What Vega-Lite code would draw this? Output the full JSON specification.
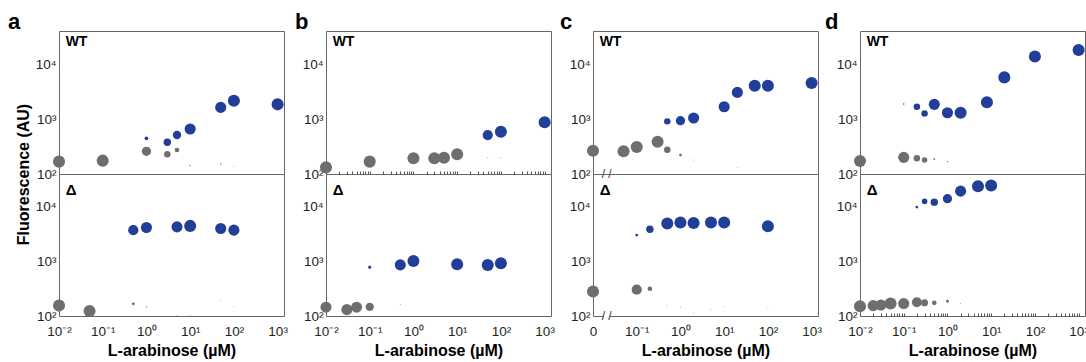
{
  "$schema": "https://vega.github.io/schema/vega-lite/v6.json",
  "padding": {"left": 7, "top": 10, "right": 0, "bottom": 0},
  "bounds": "flush",
  "columns": 4,
  "spacing": {"row": 0, "column": 42},
  "config": {
    "font": "Liberation Sans",
    "view": {"stroke": "#666666", "strokeWidth": 1},
    "axis": {"labelFont": "Liberation Sans", "titleFont": "Liberation Sans", "labelFontSize": 13.5, "labelColor": "#231f20", "titleFontSize": 16, "titleFontWeight": "bold", "titleColor": "#000000", "grid": false, "domain": false, "ticks": false, "labelFlush": false, "labelOverlap": false},
    "title": {"font": "Liberation Sans", "fontSize": 22, "fontWeight": "bold", "color": "#000000", "anchor": "start", "frame": "group", "baseline": "alphabetic", "offset": -3}
  },
  "datasets": {
    "pts": [
      {"panel": "a", "strain": "WT", "ara": 0.01, "fl": 168, "state": "off", "frac": 1.0},
      {"panel": "a", "strain": "WT", "ara": 0.1, "fl": 175, "state": "off", "frac": 1.0},
      {"panel": "a", "strain": "WT", "ara": 1, "fl": 259, "state": "off", "frac": 0.59},
      {"panel": "a", "strain": "WT", "ara": 1, "fl": 446, "state": "on", "frac": 0.095},
      {"panel": "a", "strain": "WT", "ara": 3, "fl": 228, "state": "off", "frac": 0.29},
      {"panel": "a", "strain": "WT", "ara": 3, "fl": 377, "state": "on", "frac": 0.38},
      {"panel": "a", "strain": "WT", "ara": 5, "fl": 273, "state": "off", "frac": 0.15},
      {"panel": "a", "strain": "WT", "ara": 5, "fl": 512, "state": "on", "frac": 0.48},
      {"panel": "a", "strain": "WT", "ara": 10, "fl": 658, "state": "on", "frac": 0.85},
      {"panel": "a", "strain": "WT", "ara": 10, "fl": 142, "state": "off", "frac": 0.013},
      {"panel": "a", "strain": "WT", "ara": 50, "fl": 1630, "state": "on", "frac": 0.85},
      {"panel": "a", "strain": "WT", "ara": 50, "fl": 152, "state": "off", "frac": 0.013},
      {"panel": "a", "strain": "WT", "ara": 100, "fl": 2150, "state": "on", "frac": 1.0},
      {"panel": "a", "strain": "WT", "ara": 100, "fl": 138, "state": "off", "frac": 0.006},
      {"panel": "a", "strain": "WT", "ara": 1000, "fl": 1850, "state": "on", "frac": 1.0},
      {"panel": "a", "strain": "D", "ara": 0.01, "fl": 155, "state": "off", "frac": 1.0},
      {"panel": "a", "strain": "D", "ara": 0.05, "fl": 124, "state": "off", "frac": 1.0},
      {"panel": "a", "strain": "D", "ara": 0.5, "fl": 3740, "state": "on", "frac": 0.72},
      {"panel": "a", "strain": "D", "ara": 0.5, "fl": 167, "state": "off", "frac": 0.053},
      {"panel": "a", "strain": "D", "ara": 1, "fl": 4190, "state": "on", "frac": 0.85},
      {"panel": "a", "strain": "D", "ara": 1, "fl": 147, "state": "off", "frac": 0.013},
      {"panel": "a", "strain": "D", "ara": 5, "fl": 4300, "state": "on", "frac": 0.85},
      {"panel": "a", "strain": "D", "ara": 5, "fl": 102, "state": "off", "frac": 0.006},
      {"panel": "a", "strain": "D", "ara": 10, "fl": 4480, "state": "on", "frac": 1.0},
      {"panel": "a", "strain": "D", "ara": 10, "fl": 102, "state": "off", "frac": 0.006},
      {"panel": "a", "strain": "D", "ara": 50, "fl": 4020, "state": "on", "frac": 0.85},
      {"panel": "a", "strain": "D", "ara": 50, "fl": 191, "state": "off", "frac": 0.006},
      {"panel": "a", "strain": "D", "ara": 100, "fl": 3740, "state": "on", "frac": 0.85},
      {"panel": "a", "strain": "D", "ara": 100, "fl": 147, "state": "off", "frac": 0.006},
      {"panel": "b", "strain": "WT", "ara": 0.01, "fl": 132, "state": "off", "frac": 1.0},
      {"panel": "b", "strain": "WT", "ara": 0.1, "fl": 168, "state": "off", "frac": 1.0},
      {"panel": "b", "strain": "WT", "ara": 1, "fl": 193, "state": "off", "frac": 1.0},
      {"panel": "b", "strain": "WT", "ara": 3, "fl": 193, "state": "off", "frac": 1.0},
      {"panel": "b", "strain": "WT", "ara": 5, "fl": 198, "state": "off", "frac": 1.0},
      {"panel": "b", "strain": "WT", "ara": 10, "fl": 228, "state": "off", "frac": 1.0},
      {"panel": "b", "strain": "WT", "ara": 50, "fl": 512, "state": "on", "frac": 0.72},
      {"panel": "b", "strain": "WT", "ara": 50, "fl": 198, "state": "off", "frac": 0.006},
      {"panel": "b", "strain": "WT", "ara": 100, "fl": 588, "state": "on", "frac": 1.0},
      {"panel": "b", "strain": "WT", "ara": 100, "fl": 198, "state": "off", "frac": 0.006},
      {"panel": "b", "strain": "WT", "ara": 1000, "fl": 871, "state": "on", "frac": 1.0},
      {"panel": "b", "strain": "D", "ara": 0.01, "fl": 145, "state": "off", "frac": 0.85},
      {"panel": "b", "strain": "D", "ara": 0.03, "fl": 131, "state": "off", "frac": 0.85},
      {"panel": "b", "strain": "D", "ara": 0.05, "fl": 145, "state": "off", "frac": 0.85},
      {"panel": "b", "strain": "D", "ara": 0.1, "fl": 147, "state": "off", "frac": 0.48},
      {"panel": "b", "strain": "D", "ara": 0.1, "fl": 785, "state": "on", "frac": 0.07},
      {"panel": "b", "strain": "D", "ara": 0.5, "fl": 863, "state": "on", "frac": 0.85},
      {"panel": "b", "strain": "D", "ara": 0.5, "fl": 162, "state": "off", "frac": 0.006},
      {"panel": "b", "strain": "D", "ara": 1, "fl": 1020, "state": "on", "frac": 1.0},
      {"panel": "b", "strain": "D", "ara": 10, "fl": 890, "state": "on", "frac": 1.0},
      {"panel": "b", "strain": "D", "ara": 50, "fl": 863, "state": "on", "frac": 1.0},
      {"panel": "b", "strain": "D", "ara": 100, "fl": 927, "state": "on", "frac": 1.0},
      {"panel": "c", "strain": "WT", "ara": 0.01, "fl": 266, "state": "off", "frac": 1.0},
      {"panel": "c", "strain": "WT", "ara": 0.05, "fl": 259, "state": "off", "frac": 1.0},
      {"panel": "c", "strain": "WT", "ara": 0.1, "fl": 310, "state": "off", "frac": 1.0},
      {"panel": "c", "strain": "WT", "ara": 0.3, "fl": 387, "state": "off", "frac": 1.0},
      {"panel": "c", "strain": "WT", "ara": 0.5, "fl": 277, "state": "off", "frac": 0.29},
      {"panel": "c", "strain": "WT", "ara": 0.5, "fl": 907, "state": "on", "frac": 0.29},
      {"panel": "c", "strain": "WT", "ara": 1, "fl": 221, "state": "off", "frac": 0.053},
      {"panel": "c", "strain": "WT", "ara": 1, "fl": 931, "state": "on", "frac": 0.59},
      {"panel": "c", "strain": "WT", "ara": 2, "fl": 1043, "state": "on", "frac": 0.85},
      {"panel": "c", "strain": "WT", "ara": 2, "fl": 180, "state": "off", "frac": 0.006},
      {"panel": "c", "strain": "WT", "ara": 10, "fl": 1675, "state": "on", "frac": 0.85},
      {"panel": "c", "strain": "WT", "ara": 20, "fl": 3055, "state": "on", "frac": 0.85},
      {"panel": "c", "strain": "WT", "ara": 20, "fl": 132, "state": "off", "frac": 0.006},
      {"panel": "c", "strain": "WT", "ara": 50, "fl": 4030, "state": "on", "frac": 1.0},
      {"panel": "c", "strain": "WT", "ara": 100, "fl": 4030, "state": "on", "frac": 1.0},
      {"panel": "c", "strain": "WT", "ara": 1000, "fl": 4520, "state": "on", "frac": 1.0},
      {"panel": "c", "strain": "D", "ara": 0.01, "fl": 282, "state": "off", "frac": 1.0},
      {"panel": "c", "strain": "D", "ara": 0.1, "fl": 303, "state": "off", "frac": 0.72},
      {"panel": "c", "strain": "D", "ara": 0.2, "fl": 316, "state": "off", "frac": 0.15},
      {"panel": "c", "strain": "D", "ara": 0.1, "fl": 3035, "state": "on", "frac": 0.053},
      {"panel": "c", "strain": "D", "ara": 0.2, "fl": 3900, "state": "on", "frac": 0.38},
      {"panel": "c", "strain": "D", "ara": 0.5, "fl": 4960, "state": "on", "frac": 1.0},
      {"panel": "c", "strain": "D", "ara": 1, "fl": 5160, "state": "on", "frac": 1.0},
      {"panel": "c", "strain": "D", "ara": 2, "fl": 5070, "state": "on", "frac": 1.0},
      {"panel": "c", "strain": "D", "ara": 5, "fl": 5160, "state": "on", "frac": 1.0},
      {"panel": "c", "strain": "D", "ara": 10, "fl": 5160, "state": "on", "frac": 1.0},
      {"panel": "c", "strain": "D", "ara": 100, "fl": 4420, "state": "on", "frac": 1.0},
      {"panel": "c", "strain": "D", "ara": 0.5, "fl": 157, "state": "off", "frac": 0.006},
      {"panel": "c", "strain": "D", "ara": 1, "fl": 145, "state": "off", "frac": 0.006},
      {"panel": "c", "strain": "D", "ara": 2, "fl": 114, "state": "off", "frac": 0.006},
      {"panel": "c", "strain": "D", "ara": 5, "fl": 131, "state": "off", "frac": 0.006},
      {"panel": "c", "strain": "D", "ara": 10, "fl": 147, "state": "off", "frac": 0.006},
      {"panel": "c", "strain": "D", "ara": 100, "fl": 135, "state": "off", "frac": 0.006},
      {"panel": "d", "strain": "WT", "ara": 0.01, "fl": 172, "state": "off", "frac": 1.0},
      {"panel": "d", "strain": "WT", "ara": 0.1, "fl": 201, "state": "off", "frac": 0.85},
      {"panel": "d", "strain": "WT", "ara": 0.2, "fl": 193, "state": "off", "frac": 0.29},
      {"panel": "d", "strain": "WT", "ara": 0.3, "fl": 180, "state": "off", "frac": 0.21},
      {"panel": "d", "strain": "WT", "ara": 0.5, "fl": 187, "state": "off", "frac": 0.024},
      {"panel": "d", "strain": "WT", "ara": 1, "fl": 168, "state": "off", "frac": 0.015},
      {"panel": "d", "strain": "WT", "ara": 0.1, "fl": 1874, "state": "on", "frac": 0.015},
      {"panel": "d", "strain": "WT", "ara": 0.2, "fl": 1675, "state": "on", "frac": 0.29},
      {"panel": "d", "strain": "WT", "ara": 0.3, "fl": 1268, "state": "on", "frac": 0.29},
      {"panel": "d", "strain": "WT", "ara": 0.5, "fl": 1850, "state": "on", "frac": 0.85},
      {"panel": "d", "strain": "WT", "ara": 1, "fl": 1300, "state": "on", "frac": 0.85},
      {"panel": "d", "strain": "WT", "ara": 2, "fl": 1300, "state": "on", "frac": 1.0},
      {"panel": "d", "strain": "WT", "ara": 8, "fl": 2015, "state": "on", "frac": 1.0},
      {"panel": "d", "strain": "WT", "ara": 20, "fl": 5730, "state": "on", "frac": 1.0},
      {"panel": "d", "strain": "WT", "ara": 100, "fl": 13800, "state": "on", "frac": 1.0},
      {"panel": "d", "strain": "WT", "ara": 1000, "fl": 18000, "state": "on", "frac": 1.0},
      {"panel": "d", "strain": "D", "ara": 0.01, "fl": 151, "state": "off", "frac": 1.0},
      {"panel": "d", "strain": "D", "ara": 0.02, "fl": 155, "state": "off", "frac": 0.85},
      {"panel": "d", "strain": "D", "ara": 0.03, "fl": 159, "state": "off", "frac": 0.85},
      {"panel": "d", "strain": "D", "ara": 0.05, "fl": 169, "state": "off", "frac": 1.0},
      {"panel": "d", "strain": "D", "ara": 0.1, "fl": 169, "state": "off", "frac": 0.85},
      {"panel": "d", "strain": "D", "ara": 0.2, "fl": 178, "state": "off", "frac": 0.68},
      {"panel": "d", "strain": "D", "ara": 0.3, "fl": 174, "state": "off", "frac": 0.34},
      {"panel": "d", "strain": "D", "ara": 0.5, "fl": 174, "state": "off", "frac": 0.15},
      {"panel": "d", "strain": "D", "ara": 1, "fl": 186, "state": "off", "frac": 0.06},
      {"panel": "d", "strain": "D", "ara": 2, "fl": 169, "state": "off", "frac": 0.006},
      {"panel": "d", "strain": "D", "ara": 0.2, "fl": 9900, "state": "on", "frac": 0.053},
      {"panel": "d", "strain": "D", "ara": 0.3, "fl": 12600, "state": "on", "frac": 0.21},
      {"panel": "d", "strain": "D", "ara": 0.5, "fl": 12200, "state": "on", "frac": 0.38},
      {"panel": "d", "strain": "D", "ara": 1, "fl": 14100, "state": "on", "frac": 0.59},
      {"panel": "d", "strain": "D", "ara": 2, "fl": 19400, "state": "on", "frac": 0.85},
      {"panel": "d", "strain": "D", "ara": 5, "fl": 23900, "state": "on", "frac": 1.0},
      {"panel": "d", "strain": "D", "ara": 10, "fl": 24600, "state": "on", "frac": 1.0}
    ],
    "blank": [{}]
  },
  "concat": [
    {
      "title": {"text": "a", "dx": -51},
      "width": 225, "height": 143,
      "data": {"name": "pts"},
      "transform": [{"filter": "datum.panel == 'a' && datum.strain == 'WT'"}],
      "layer": [
        {"mark": {"type": "circle", "opacity": 1},
         "encoding": {
           "x": {"field": "ara", "type": "quantitative", "scale": {"type": "log", "domain": [0.01, 1400], "nice": false}, "axis": null},
           "y": {"field": "fl", "type": "quantitative", "scale": {"type": "log", "domain": [100, 40000], "nice": false},
                 "axis": {"values": [100, 1000, 10000], "labelExpr": "datum.value < 500 ? '10²' : datum.value < 5000 ? '10³' : '10⁴'", "labelPadding": 3, "title": "Fluorescence (AU)", "titleX": -36, "titleY": 143, "titleAlign": "center", "titleBaseline": "middle", "titleAngle": -90}},
           "size": {"field": "frac", "type": "quantitative", "scale": {"type": "linear", "domain": [0, 1], "range": [0, 145]}, "legend": null},
           "color": {"field": "state", "type": "nominal", "scale": {"domain": ["off", "on"], "range": ["#6d6e71", "#213f98"]}, "legend": null}
         }},
        {"data": {"name": "blank"},
         "mark": {"type": "text", "text": "WT", "fontWeight": "bold", "fontSize": 14, "align": "left", "baseline": "middle", "color": "#000000"},
         "encoding": {"x": {"datum": 0.0142, "type": "quantitative", "axis": null}, "y": {"datum": 25000, "type": "quantitative"}}}
      ]
    },
    {
      "title": {"text": "b", "dx": -31},
      "width": 225, "height": 143,
      "data": {"name": "pts"},
      "transform": [{"filter": "datum.panel == 'b' && datum.strain == 'WT'"}],
      "layer": [
        {"mark": {"type": "circle", "opacity": 1},
         "encoding": {
           "x": {"field": "ara", "type": "quantitative", "scale": {"type": "log", "domain": [0.01, 1400], "nice": false},
                 "axis": {"values": [0.01,0.02,0.03,0.04,0.05,0.06,0.07,0.08,0.09,0.1,0.2,0.3,0.4,0.5,0.6,0.7,0.8,0.9,1,2,3,4,5,6,7,8,9,10,20,30,40,50,60,70,80,90,100,200,300,400,500,600,700,800,900,1000], "labels": false, "ticks": true, "tickSize": -3, "tickColor": "#555555", "title": null}},
           "y": {"field": "fl", "type": "quantitative", "scale": {"type": "log", "domain": [100, 40000], "nice": false},
                 "axis": {"values": [100, 1000, 10000], "labelExpr": "datum.value < 500 ? '10²' : datum.value < 5000 ? '10³' : '10⁴'", "labelPadding": 3, "title": null}},
           "size": {"field": "frac", "type": "quantitative", "scale": {"type": "linear", "domain": [0, 1], "range": [0, 145]}, "legend": null},
           "color": {"field": "state", "type": "nominal", "scale": {"domain": ["off", "on"], "range": ["#6d6e71", "#213f98"]}, "legend": null}
         }},
        {"data": {"name": "blank"},
         "mark": {"type": "text", "text": "WT", "fontWeight": "bold", "fontSize": 14, "align": "left", "baseline": "middle", "color": "#000000"},
         "encoding": {"x": {"datum": 0.0142, "type": "quantitative"}, "y": {"datum": 25000, "type": "quantitative"}}}
      ]
    },
    {
      "title": {"text": "c", "dx": -33},
      "width": 225, "height": 143,
      "data": {"name": "pts"},
      "transform": [{"filter": "datum.panel == 'c' && datum.strain == 'WT'"}],
      "layer": [
        {"mark": {"type": "circle", "opacity": 1},
         "encoding": {
           "x": {"field": "ara", "type": "quantitative", "scale": {"type": "log", "domain": [0.01, 1400], "nice": false}, "axis": null},
           "y": {"field": "fl", "type": "quantitative", "scale": {"type": "log", "domain": [100, 40000], "nice": false},
                 "axis": {"values": [100, 1000, 10000], "labelExpr": "datum.value < 500 ? '10²' : datum.value < 5000 ? '10³' : '10⁴'", "labelPadding": 3, "title": null}},
           "size": {"field": "frac", "type": "quantitative", "scale": {"type": "linear", "domain": [0, 1], "range": [0, 145]}, "legend": null},
           "color": {"field": "state", "type": "nominal", "scale": {"domain": ["off", "on"], "range": ["#6d6e71", "#213f98"]}, "legend": null}
         }},
        {"data": {"name": "blank"},
         "mark": {"type": "rule", "color": "#ffffff", "strokeWidth": 3},
         "encoding": {"x": {"datum": 0.0175, "type": "quantitative", "axis": null}, "x2": {"datum": 0.024}, "y": {"datum": 100, "type": "quantitative"}}},
        {"data": {"name": "blank"},
         "mark": {"type": "text", "text": "/ /", "fontSize": 12, "align": "center", "baseline": "middle", "color": "#333333"},
         "encoding": {"x": {"datum": 0.0205, "type": "quantitative", "axis": null}, "y": {"datum": 100, "type": "quantitative"}}},
        {"data": {"name": "blank"},
         "mark": {"type": "text", "text": "WT", "fontWeight": "bold", "fontSize": 14, "align": "left", "baseline": "middle", "color": "#000000"},
         "encoding": {"x": {"datum": 0.0142, "type": "quantitative", "axis": null}, "y": {"datum": 25000, "type": "quantitative"}}}
      ]
    },
    {
      "title": {"text": "d", "dx": -35},
      "width": 225, "height": 143,
      "data": {"name": "pts"},
      "transform": [{"filter": "datum.panel == 'd' && datum.strain == 'WT'"}],
      "layer": [
        {"mark": {"type": "circle", "opacity": 1},
         "encoding": {
           "x": {"field": "ara", "type": "quantitative", "scale": {"type": "log", "domain": [0.01, 1400], "nice": false}, "axis": null},
           "y": {"field": "fl", "type": "quantitative", "scale": {"type": "log", "domain": [100, 40000], "nice": false},
                 "axis": {"values": [100, 1000, 10000], "labelExpr": "datum.value < 500 ? '10²' : datum.value < 5000 ? '10³' : '10⁴'", "labelPadding": 3, "title": null}},
           "size": {"field": "frac", "type": "quantitative", "scale": {"type": "linear", "domain": [0, 1], "range": [0, 145]}, "legend": null},
           "color": {"field": "state", "type": "nominal", "scale": {"domain": ["off", "on"], "range": ["#6d6e71", "#213f98"]}, "legend": null}
         }},
        {"data": {"name": "blank"},
         "mark": {"type": "text", "text": "WT", "fontWeight": "bold", "fontSize": 14, "align": "left", "baseline": "middle", "color": "#000000"},
         "encoding": {"x": {"datum": 0.0142, "type": "quantitative", "axis": null}, "y": {"datum": 25000, "type": "quantitative"}}}
      ]
    },
    {
      "width": 225, "height": 142,
      "data": {"name": "pts"},
      "transform": [{"filter": "datum.panel == 'a' && datum.strain == 'D'"}],
      "layer": [
        {"mark": {"type": "circle", "opacity": 1},
         "encoding": {
           "x": {"field": "ara", "type": "quantitative", "scale": {"type": "log", "domain": [0.01, 1400], "nice": false},
                 "axis": {"values": [0.01, 0.1, 1, 10, 100, 1000], "labelExpr": "['10⁻²','10⁻¹','10⁰','10¹','10²','10³'][round(log(datum.value)/LN10)+2]", "labelPadding": 8, "title": "L-arabinose (µM)", "titlePadding": 5}},
           "y": {"field": "fl", "type": "quantitative", "scale": {"type": "log", "domain": [100, 40000], "nice": false},
                 "axis": {"values": [100, 1000, 10000], "labelExpr": "datum.value < 500 ? '10²' : datum.value < 5000 ? '10³' : '10⁴'", "labelPadding": 3, "title": null}},
           "size": {"field": "frac", "type": "quantitative", "scale": {"type": "linear", "domain": [0, 1], "range": [0, 145]}, "legend": null},
           "color": {"field": "state", "type": "nominal", "scale": {"domain": ["off", "on"], "range": ["#6d6e71", "#213f98"]}, "legend": null}
         }},
        {"data": {"name": "blank"},
         "mark": {"type": "text", "text": "Δ", "fontWeight": "bold", "fontSize": 15, "align": "left", "baseline": "middle", "color": "#000000"},
         "encoding": {"x": {"datum": 0.0142, "type": "quantitative"}, "y": {"datum": 20000, "type": "quantitative"}}}
      ]
    },
    {
      "width": 225, "height": 142,
      "data": {"name": "pts"},
      "transform": [{"filter": "datum.panel == 'b' && datum.strain == 'D'"}],
      "layer": [
        {"mark": {"type": "circle", "opacity": 1},
         "encoding": {
           "x": {"field": "ara", "type": "quantitative", "scale": {"type": "log", "domain": [0.01, 1400], "nice": false},
                 "axis": {"values": [0.01, 0.1, 1, 10, 100, 1000], "labelExpr": "['10⁻²','10⁻¹','10⁰','10¹','10²','10³'][round(log(datum.value)/LN10)+2]", "labelPadding": 8, "title": "L-arabinose (µM)", "titlePadding": 5}},
           "y": {"field": "fl", "type": "quantitative", "scale": {"type": "log", "domain": [100, 40000], "nice": false},
                 "axis": {"values": [100, 1000, 10000], "labelExpr": "datum.value < 500 ? '10²' : datum.value < 5000 ? '10³' : '10⁴'", "labelPadding": 3, "title": null}},
           "size": {"field": "frac", "type": "quantitative", "scale": {"type": "linear", "domain": [0, 1], "range": [0, 145]}, "legend": null},
           "color": {"field": "state", "type": "nominal", "scale": {"domain": ["off", "on"], "range": ["#6d6e71", "#213f98"]}, "legend": null}
         }},
        {"data": {"name": "blank"},
         "mark": {"type": "text", "text": "Δ", "fontWeight": "bold", "fontSize": 15, "align": "left", "baseline": "middle", "color": "#000000"},
         "encoding": {"x": {"datum": 0.0142, "type": "quantitative"}, "y": {"datum": 20000, "type": "quantitative"}}}
      ]
    },
    {
      "width": 225, "height": 142,
      "data": {"name": "pts"},
      "transform": [{"filter": "datum.panel == 'c' && datum.strain == 'D'"}],
      "layer": [
        {"mark": {"type": "circle", "opacity": 1},
         "encoding": {
           "x": {"field": "ara", "type": "quantitative", "scale": {"type": "log", "domain": [0.01, 1400], "nice": false},
                 "axis": {"values": [0.01, 0.1, 1, 10, 100, 1000], "labelExpr": "['0','10⁻¹','10⁰','10¹','10²','10³'][round(log(datum.value)/LN10)+2]", "labelPadding": 8, "title": "L-arabinose (µM)", "titlePadding": 5}},
           "y": {"field": "fl", "type": "quantitative", "scale": {"type": "log", "domain": [100, 40000], "nice": false},
                 "axis": {"values": [100, 1000, 10000], "labelExpr": "datum.value < 500 ? '10²' : datum.value < 5000 ? '10³' : '10⁴'", "labelPadding": 3, "title": null}},
           "size": {"field": "frac", "type": "quantitative", "scale": {"type": "linear", "domain": [0, 1], "range": [0, 145]}, "legend": null},
           "color": {"field": "state", "type": "nominal", "scale": {"domain": ["off", "on"], "range": ["#6d6e71", "#213f98"]}, "legend": null}
         }},
        {"data": {"name": "blank"},
         "mark": {"type": "rule", "color": "#ffffff", "strokeWidth": 3},
         "encoding": {"x": {"datum": 0.0175, "type": "quantitative"}, "x2": {"datum": 0.024}, "y": {"datum": 100, "type": "quantitative"}}},
        {"data": {"name": "blank"},
         "mark": {"type": "text", "text": "/ /", "fontSize": 12, "align": "center", "baseline": "middle", "color": "#333333"},
         "encoding": {"x": {"datum": 0.0205, "type": "quantitative"}, "y": {"datum": 100, "type": "quantitative"}}},
        {"data": {"name": "blank"},
         "mark": {"type": "text", "text": "Δ", "fontWeight": "bold", "fontSize": 15, "align": "left", "baseline": "middle", "color": "#000000"},
         "encoding": {"x": {"datum": 0.0142, "type": "quantitative"}, "y": {"datum": 20000, "type": "quantitative"}}}
      ]
    },
    {
      "width": 225, "height": 142,
      "data": {"name": "pts"},
      "transform": [{"filter": "datum.panel == 'd' && datum.strain == 'D'"}],
      "layer": [
        {"mark": {"type": "circle", "opacity": 1},
         "encoding": {
           "x": {"field": "ara", "type": "quantitative", "scale": {"type": "log", "domain": [0.01, 1400], "nice": false},
                 "axis": {"values": [0.01,0.02,0.03,0.04,0.05,0.06,0.07,0.08,0.09,0.1,0.2,0.3,0.4,0.5,0.6,0.7,0.8,0.9,1,2,3,4,5,6,7,8,9,10,20,30,40,50,60,70,80,90,100,200,300,400,500,600,700,800,900,1000], "labelExpr": "abs(log(datum.value)/LN10 - round(log(datum.value)/LN10)) < 0.001 ? ['10⁻²','10⁻¹','10⁰','10¹','10²','10³'][round(log(datum.value)/LN10)+2] : ''", "ticks": true, "tickSize": -3, "tickColor": "#555555", "labelPadding": 11, "title": "L-arabinose (µM)", "titlePadding": 5}},
           "y": {"field": "fl", "type": "quantitative", "scale": {"type": "log", "domain": [100, 40000], "nice": false},
                 "axis": {"values": [100, 1000, 10000], "labelExpr": "datum.value < 500 ? '10²' : datum.value < 5000 ? '10³' : '10⁴'", "labelPadding": 3, "title": null}},
           "size": {"field": "frac", "type": "quantitative", "scale": {"type": "linear", "domain": [0, 1], "range": [0, 145]}, "legend": null},
           "color": {"field": "state", "type": "nominal", "scale": {"domain": ["off", "on"], "range": ["#6d6e71", "#213f98"]}, "legend": null}
         }},
        {"data": {"name": "blank"},
         "mark": {"type": "text", "text": "Δ", "fontWeight": "bold", "fontSize": 15, "align": "left", "baseline": "middle", "color": "#000000"},
         "encoding": {"x": {"datum": 0.0142, "type": "quantitative"}, "y": {"datum": 20000, "type": "quantitative"}}}
      ]
    }
  ]
}
